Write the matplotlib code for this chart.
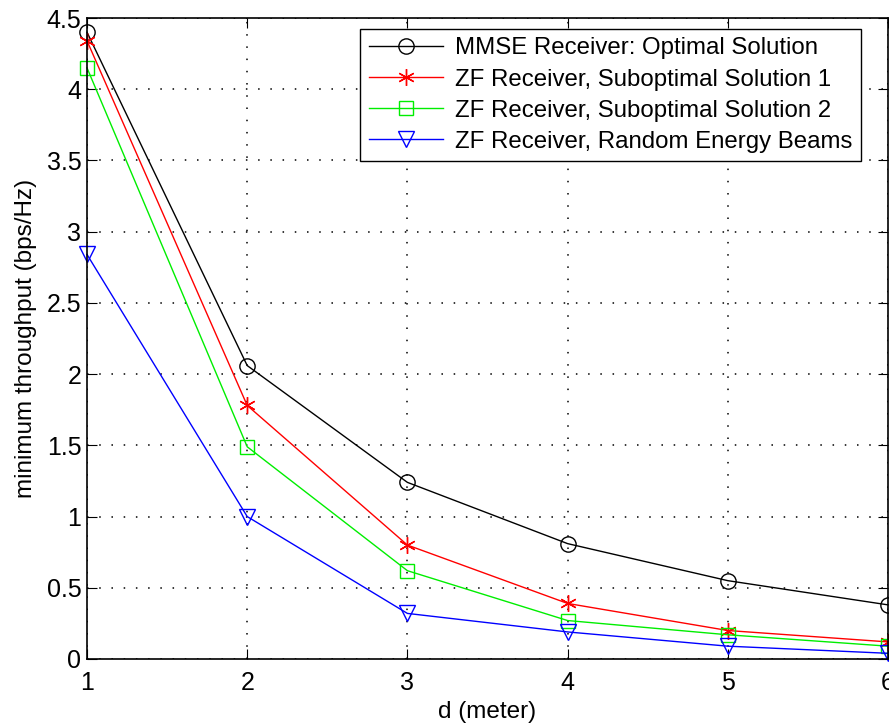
import numpy as np
import matplotlib.pyplot as plt
from matplotlib.ticker import FormatStrFormatter

plt.rcParams["font.family"] = ["Liberation Sans", "DejaVu Sans"]

# distance d (meter)
d = [1, 2, 3, 4, 5, 6]

mmse_opt = [4.40, 2.06, 1.24, 0.81, 0.55, 0.38]
zf_sub1 = [4.34, 1.78, 0.80, 0.39, 0.20, 0.12]
zf_sub2 = [4.15, 1.49, 0.62, 0.27, 0.17, 0.09]
zf_rand = [2.84, 1.00, 0.32, 0.19, 0.09, 0.04]

labels = [
    "MMSE Receiver: Optimal Solution",
    "ZF Receiver, Suboptimal Solution 1",
    "ZF Receiver, Suboptimal Solution 2",
    "ZF Receiver, Random Energy Beams",
]

fig = plt.figure(figsize=(8.89, 7.24), dpi=100)
ax = fig.add_axes([87 / 889, 1 - 659 / 724, 801 / 889, 641 / 724])

asterisk = (6, 2, 0)
ax.plot(d, mmse_opt, color="k", marker="o", ms=11, mfc="none", lw=1, label=labels[0], clip_on=False)
ax.plot(d, zf_sub1, color="#ff0000", marker=asterisk, ms=12, mew=1, lw=1, label=labels[1], clip_on=False)
ax.plot(d, zf_sub2, color="#00ee00", marker="s", ms=10, mfc="none", lw=1, label=labels[2], clip_on=False)
ax.plot(d, zf_rand, color="#0000ff", marker="v", ms=12, mfc="none", lw=1, label=labels[3], clip_on=False)

ax.set_xlim(1, 6)
ax.set_ylim(0, 4.5)
ax.set_xticks(d)
ax.set_yticks(np.arange(0, 4.51, 0.5))
ax.yaxis.set_major_formatter(FormatStrFormatter("%g"))

ax.grid(True, color="k", linestyle=(0, (1, 7)), lw=1.1)
ax.tick_params(direction="in", top=True, right=True, length=7, labelsize=18)
ax.tick_params(axis="x", pad=9)
ax.tick_params(axis="y", pad=4)
for s in ax.spines.values():
    s.set_linewidth(1.2)

ax.set_xlabel("d (meter)", fontsize=17.5, labelpad=4)
ax.set_ylabel("minimum throughput (bps/Hz)", fontsize=17.5, labelpad=7)

leg = ax.legend(
    loc="upper right",
    bbox_to_anchor=(861 / 889, 1 - 29 / 724),
    bbox_transform=fig.transFigure,
    fontsize=17.3,
    fancybox=False,
    framealpha=1,
    edgecolor="k",
    handlelength=3.1,
    handletextpad=0.5,
    borderpad=0.35,
    labelspacing=0.38,
    borderaxespad=0,
)
leg.get_frame().set_linewidth(1)

plt.savefig("out.png", dpi=100)
